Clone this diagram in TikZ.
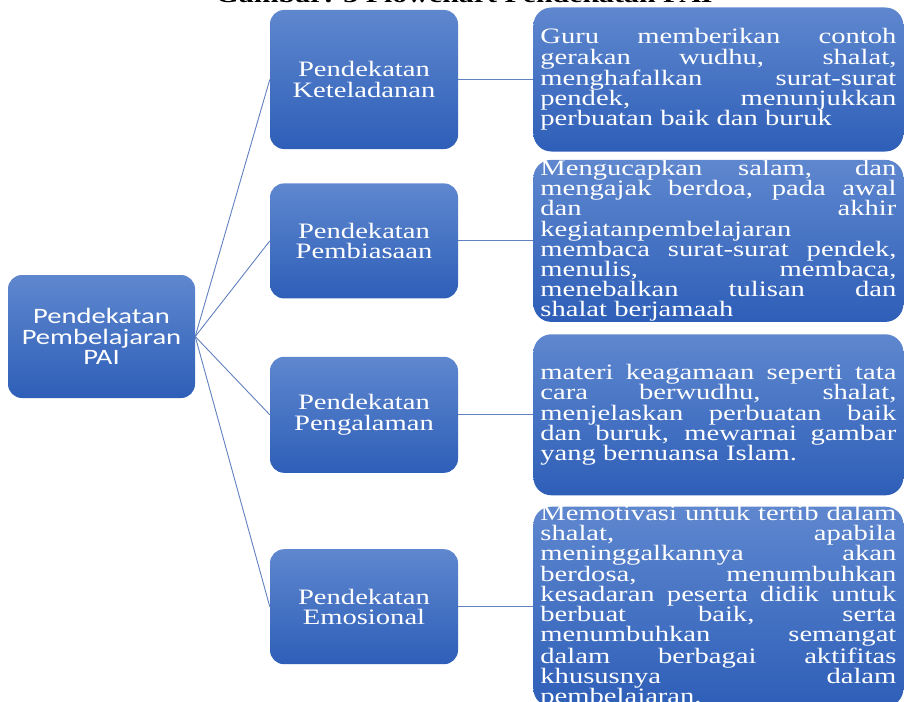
\documentclass[tikz,border=0pt]{standalone}
\usepackage{fontspec}
\setmainfont{Liberation Serif}[FakeStretch=1.30]
\newfontfamily\rootfnt{Carlito}[FakeStretch=1.30]
\usepackage{tikz}
\usetikzlibrary{positioning}
\definecolor{boxtop}{rgb}{0.37, 0.53, 0.81}
\definecolor{boxbot}{rgb}{0.18, 0.37, 0.72}
\definecolor{lineclr}{rgb}{0.38, 0.50, 0.75}
\newcommand{\boxfnt}{\fontsize{22pt}{20.2pt}\selectfont}
\newcommand{\titlefnt}{\bfseries\fontsize{23pt}{23pt}\selectfont}
\newcommand{\desctxt}[2]{\parbox[c][#1][c]{356pt}{\tolerance=10000\hbadness=10000 #2}}
\tikzset{ %
  ,box/.style={rounded corners=14pt, top color=boxtop, bottom color=boxbot, text=white, inner sep=0, font=\boxfnt}
  ,root/.style={box, minimum width=187pt, minimum height=123pt, align=center, font=\rootfnt\boxfnt}
  ,appr/.style={box, minimum width=188pt, minimum height=115pt, align=center}
  ,desc/.style={box, minimum width=370pt, rounded corners=18pt}
  ,link/.style={draw=lineclr, line width=0.9pt}
}
\begin{document}
\begin{tikzpicture}[x=1pt, y=1pt]
  \useasboundingbox (0,0) rectangle (904,-701);
  \node[anchor=base, font=\titlefnt] (T) at (464,-3) {Gambar: 3 Flowchart Pendekatan PAI};
  \draw
  node[root] (P) at (101.5,-336.5) {Pendekatan\\Pembelajaran\\PAI}
  node[appr, minimum height=139pt] (K) at (364,-79.5) {Pendekatan\\Keteladanan}
  node[appr, below=34pt of K] (B) {Pendekatan\\Pembiasaan}
  node[appr, minimum height=116pt, below=58pt of B] (G) {Pendekatan\\Pengalaman}
  node[appr, below=76pt of G] (E) {Pendekatan\\Emosional}
  node[desc, right=75pt of K] (Kd) {\desctxt{144pt}{Guru memberikan contoh\linebreak
    gerakan wudhu, shalat,\linebreak
    menghafalkan surat-surat\linebreak
    pendek, menunjukkan\linebreak
    perbuatan baik dan buruk}}
  node[desc, right=75pt of B] (Bd) {\desctxt{162pt}{Mengucapkan salam, dan\linebreak
    mengajak berdoa, pada awal\linebreak
    dan akhir\linebreak
    kegiatanpembelajaran\linebreak
    membaca surat-surat pendek,\linebreak
    menulis, membaca,\linebreak
    menebalkan tulisan dan\linebreak
    shalat berjamaah}}
  node[desc, right=75pt of G] (Gd) {\desctxt{161pt}{materi keagamaan seperti tata\linebreak
    cara berwudhu, shalat,\linebreak
    menjelaskan perbuatan baik\linebreak
    dan buruk, mewarnai gambar\linebreak
    yang bernuansa Islam.}}
  node[desc, right=75pt of E] (Ed) {\desctxt{200pt}{Memotivasi untuk tertib dalam\linebreak
    shalat, apabila\linebreak
    meninggalkannya akan\linebreak
    berdosa, menumbuhkan\linebreak
    kesadaran peserta didik untuk\linebreak
    berbuat baik, serta\linebreak
    menumbuhkan semangat\linebreak
    dalam berbagai aktifitas\linebreak
    khususnya dalam\linebreak
    pembelajaran.}};
  \draw [link] (P.east) edge (K.west) (P.east) edge (B.west) (P.east) edge (G.west) (P.east) edge (E.west)
    (K) edge (Kd) (B) edge (Bd) (G) edge (Gd) (E) edge (Ed);
\end{tikzpicture}
\end{document}
